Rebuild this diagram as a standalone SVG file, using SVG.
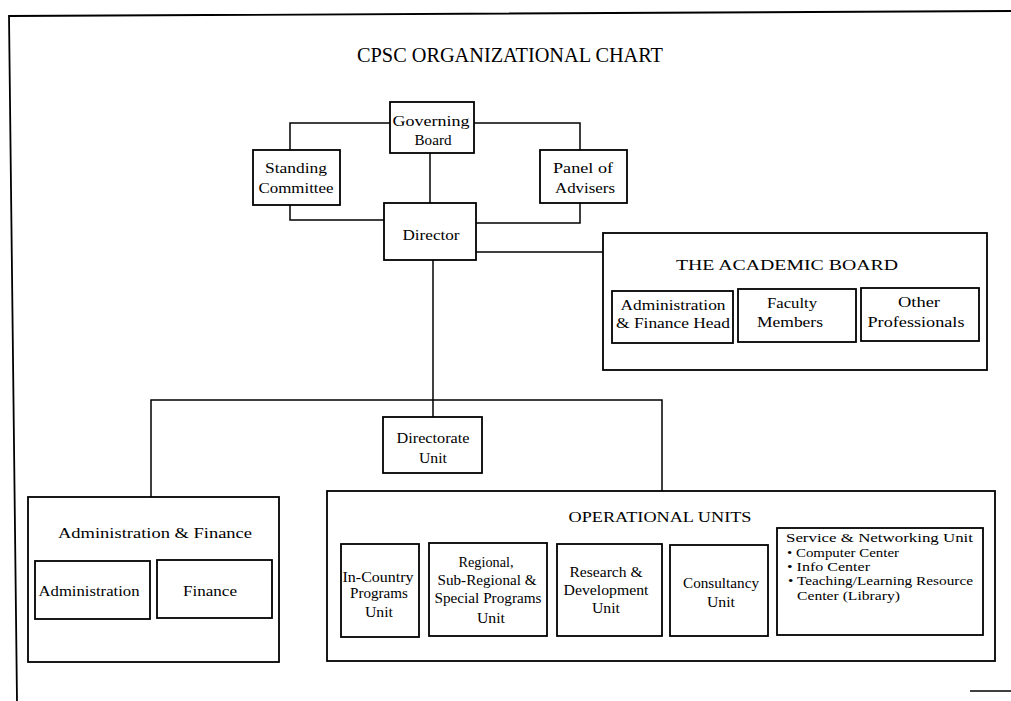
<svg xmlns="http://www.w3.org/2000/svg" width="1011" height="701" viewBox="0 0 1011 701">
<style>
.b{fill:none;stroke:#000;stroke-width:1.8}
.c{fill:none;stroke:#000;stroke-width:1.5}
text{font-family:"Liberation Serif","Times New Roman",serif;fill:#000;text-anchor:middle;font-size:14px}
.t{font-size:20px}
.s{font-size:13.5px;text-anchor:start}
</style>
<rect width="1011" height="701" fill="#fff"/>
<g id="frame">
<path class="b" d="M17,701 L9,16 L1011,11"/>
<path class="c" d="M970,691 H1011"/>
<text class="t" x="510" y="62" textLength="306" lengthAdjust="spacingAndGlyphs">CPSC ORGANIZATIONAL CHART</text>
</g>
<g id="connectors">
<path class="c" d="M390,123 H290 V150"/>
<path class="c" d="M474,123 H580 V150"/>
<path class="c" d="M290,205 V220 H384"/>
<path class="c" d="M580,203 V223 H476"/>
<path class="c" d="M430,153 V203"/>
<path class="c" d="M476,252 H603"/>
<path class="c" d="M433,260 V417"/>
<path class="c" d="M151,497 V400 H662 V491"/>
</g>
<g id="governing-board">
<rect class="b" x="390" y="102" width="84" height="51"/>
<text x="431" y="126" textLength="77" lengthAdjust="spacingAndGlyphs">Governing</text>
<text x="433" y="145" textLength="37" lengthAdjust="spacingAndGlyphs">Board</text>
</g>
<g id="standing-committee">
<rect class="b" x="253" y="150" width="87" height="55"/>
<text x="296" y="173" textLength="62" lengthAdjust="spacingAndGlyphs">Standing</text>
<text x="296" y="193" textLength="75" lengthAdjust="spacingAndGlyphs">Committee</text>
</g>
<g id="panel-of-advisers">
<rect class="b" x="540" y="150" width="87" height="53"/>
<text x="583" y="173" textLength="60" lengthAdjust="spacingAndGlyphs">Panel of</text>
<text x="585" y="193" textLength="60" lengthAdjust="spacingAndGlyphs">Advisers</text>
</g>
<g id="director">
<rect class="b" x="384" y="203" width="92" height="57"/>
<text x="431" y="240" textLength="57" lengthAdjust="spacingAndGlyphs">Director</text>
</g>
<g id="academic-board">
<rect class="b" x="603" y="233" width="384" height="137"/>
<text x="787" y="270" textLength="222" lengthAdjust="spacingAndGlyphs">THE ACADEMIC BOARD</text>
<rect class="b" x="612" y="291" width="121" height="52"/>
<text x="673" y="310" textLength="105" lengthAdjust="spacingAndGlyphs">Administration</text>
<text x="673" y="328" textLength="114" lengthAdjust="spacingAndGlyphs">&amp; Finance Head</text>
<rect class="b" x="738" y="289" width="118" height="53"/>
<text x="792" y="308" textLength="50" lengthAdjust="spacingAndGlyphs">Faculty</text>
<text x="790" y="327" textLength="66" lengthAdjust="spacingAndGlyphs">Members</text>
<rect class="b" x="861" y="288" width="118" height="53"/>
<text x="919" y="307" textLength="42" lengthAdjust="spacingAndGlyphs">Other</text>
<text x="916" y="327" textLength="97" lengthAdjust="spacingAndGlyphs">Professionals</text>
</g>
<g id="directorate-unit">
<rect class="b" x="383" y="417" width="99" height="56"/>
<text x="433" y="443" textLength="73" lengthAdjust="spacingAndGlyphs">Directorate</text>
<text x="433" y="463" textLength="28" lengthAdjust="spacingAndGlyphs">Unit</text>
</g>
<g id="administration-finance">
<rect class="b" x="28" y="497" width="251" height="165"/>
<text x="155" y="538" textLength="194" lengthAdjust="spacingAndGlyphs">Administration &amp; Finance</text>
<rect class="b" x="35" y="561" width="115" height="58"/>
<text x="89" y="596" textLength="101" lengthAdjust="spacingAndGlyphs">Administration</text>
<rect class="b" x="157" y="560" width="115" height="58"/>
<text x="210" y="596" textLength="54" lengthAdjust="spacingAndGlyphs">Finance</text>
</g>
<g id="operational-units">
<rect class="b" x="327" y="491" width="668" height="170"/>
<text x="660" y="522" textLength="183" lengthAdjust="spacingAndGlyphs">OPERATIONAL UNITS</text>
<rect class="b" x="341" y="544" width="78" height="93"/>
<text x="378" y="582" textLength="71" lengthAdjust="spacingAndGlyphs">In-Country</text>
<text x="379" y="598" textLength="58" lengthAdjust="spacingAndGlyphs">Programs</text>
<text x="379" y="617" textLength="28" lengthAdjust="spacingAndGlyphs">Unit</text>
<rect class="b" x="429" y="543" width="118" height="93"/>
<text x="486" y="567" textLength="55" lengthAdjust="spacingAndGlyphs">Regional,</text>
<text x="487" y="585" textLength="99" lengthAdjust="spacingAndGlyphs">Sub-Regional &amp;</text>
<text x="488" y="603" textLength="107" lengthAdjust="spacingAndGlyphs">Special Programs</text>
<text x="491" y="623" textLength="28" lengthAdjust="spacingAndGlyphs">Unit</text>
<rect class="b" x="557" y="544" width="105" height="92"/>
<text x="606" y="577" textLength="73" lengthAdjust="spacingAndGlyphs">Research &amp;</text>
<text x="606" y="595" textLength="85" lengthAdjust="spacingAndGlyphs">Development</text>
<text x="606" y="613" textLength="28" lengthAdjust="spacingAndGlyphs">Unit</text>
<rect class="b" x="670" y="545" width="98" height="91"/>
<text x="721" y="588" textLength="76" lengthAdjust="spacingAndGlyphs">Consultancy</text>
<text x="721" y="607" textLength="28" lengthAdjust="spacingAndGlyphs">Unit</text>
<rect class="b" x="777" y="528" width="206" height="107"/>
<text class="s" x="786" y="542" textLength="187" lengthAdjust="spacingAndGlyphs">Service &amp;  Networking Unit</text>
<text class="s" x="787" y="557" textLength="112" lengthAdjust="spacingAndGlyphs">• Computer Center</text>
<text class="s" x="787" y="571" textLength="83" lengthAdjust="spacingAndGlyphs">• Info Center</text>
<text class="s" x="788" y="585" textLength="185" lengthAdjust="spacingAndGlyphs">• Teaching/Learning Resource</text>
<text class="s" x="797" y="600" textLength="103" lengthAdjust="spacingAndGlyphs">Center  (Library)</text>
</g>
</svg>
